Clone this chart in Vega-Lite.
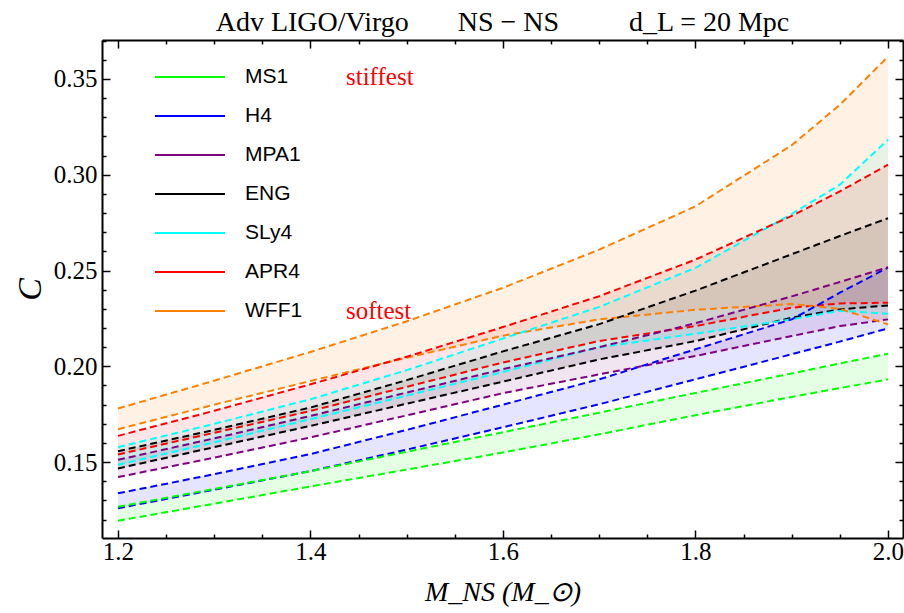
{
  "$schema": "https://vega.github.io/schema/vega-lite/v6.json",
  "width": 801,
  "height": 498,
  "autosize": {"type": "none"},
  "padding": {"left": 102, "top": 40, "right": 1, "bottom": 75},
  "background": "white",
  "title": {
    "text": "Adv LIGO/Virgo\u00a0\u00a0\u00a0\u00a0\u00a0\u00a0\u00a0NS − NS\u00a0\u00a0\u00a0\u00a0\u00a0\u00a0\u00a0\u00a0\u00a0\u00a0d_L = 20 Mpc",
    "font": "Liberation Serif",
    "fontSize": 28,
    "fontWeight": "normal",
    "color": "black",
    "anchor": "middle",
    "offset": -8
  },
  "config": {
    "view": {"stroke": null},
    "axis": {
      "grid": false,
      "domain": true,
      "domainColor": "black",
      "domainWidth": 2,
      "tickColor": "black",
      "tickWidth": 1.5,
      "labelColor": "black",
      "labelFont": "Liberation Serif",
      "labelFontSize": 25,
      "labelOverlap": false,
      "titleColor": "black",
      "titleFontWeight": "normal"
    }
  },
  "data": {
    "values": [
      {"eos":"MS1","note":"stiffest","M":1.2,"lo":0.1194,"hi":0.1267},
      {"eos":"MS1","note":"stiffest","M":1.3,"lo":0.1283,"hi":0.1360},
      {"eos":"MS1","note":"stiffest","M":1.4,"lo":0.1373,"hi":0.1453},
      {"eos":"MS1","note":"stiffest","M":1.5,"lo":0.1461,"hi":0.1554},
      {"eos":"MS1","note":"stiffest","M":1.6,"lo":0.1550,"hi":0.1656},
      {"eos":"MS1","note":"stiffest","M":1.7,"lo":0.1645,"hi":0.1758},
      {"eos":"MS1","note":"stiffest","M":1.8,"lo":0.1745,"hi":0.1861},
      {"eos":"MS1","note":"stiffest","M":1.9,"lo":0.1840,"hi":0.1963},
      {"eos":"MS1","note":"stiffest","M":1.95,"lo":0.1886,"hi":0.2015},
      {"eos":"MS1","note":"stiffest","M":2.0,"lo":0.1932,"hi":0.2066},
      {"eos":"H4","note":"none","M":1.2,"lo":0.1259,"hi":0.1337},
      {"eos":"H4","note":"none","M":1.3,"lo":0.1356,"hi":0.1437},
      {"eos":"H4","note":"none","M":1.4,"lo":0.1453,"hi":0.1542},
      {"eos":"H4","note":"none","M":1.5,"lo":0.1565,"hi":0.1668},
      {"eos":"H4","note":"none","M":1.6,"lo":0.1682,"hi":0.1800},
      {"eos":"H4","note":"none","M":1.7,"lo":0.1802,"hi":0.1932},
      {"eos":"H4","note":"none","M":1.8,"lo":0.1932,"hi":0.2089},
      {"eos":"H4","note":"none","M":1.9,"lo":0.2063,"hi":0.2245},
      {"eos":"H4","note":"none","M":1.95,"lo":0.2129,"hi":0.2384},
      {"eos":"H4","note":"none","M":2.0,"lo":0.2198,"hi":0.2515},
      {"eos":"MPA1","note":"none","M":1.2,"lo":0.1422,"hi":0.1512},
      {"eos":"MPA1","note":"none","M":1.3,"lo":0.1523,"hi":0.1624},
      {"eos":"MPA1","note":"none","M":1.4,"lo":0.1629,"hi":0.1741},
      {"eos":"MPA1","note":"none","M":1.5,"lo":0.1744,"hi":0.1863},
      {"eos":"MPA1","note":"none","M":1.6,"lo":0.1860,"hi":0.1985},
      {"eos":"MPA1","note":"none","M":1.7,"lo":0.1958,"hi":0.2100},
      {"eos":"MPA1","note":"none","M":1.8,"lo":0.2054,"hi":0.2225},
      {"eos":"MPA1","note":"none","M":1.9,"lo":0.2158,"hi":0.2365},
      {"eos":"MPA1","note":"none","M":1.95,"lo":0.2210,"hi":0.2440},
      {"eos":"MPA1","note":"none","M":2.0,"lo":0.2245,"hi":0.2517},
      {"eos":"ENG","note":"none","M":1.2,"lo":0.1467,"hi":0.1557},
      {"eos":"ENG","note":"none","M":1.3,"lo":0.1578,"hi":0.1668},
      {"eos":"ENG","note":"none","M":1.4,"lo":0.1689,"hi":0.1785},
      {"eos":"ENG","note":"none","M":1.5,"lo":0.1805,"hi":0.1928},
      {"eos":"ENG","note":"none","M":1.6,"lo":0.1920,"hi":0.2078},
      {"eos":"ENG","note":"none","M":1.7,"lo":0.2036,"hi":0.2220},
      {"eos":"ENG","note":"none","M":1.8,"lo":0.2132,"hi":0.2395},
      {"eos":"ENG","note":"none","M":1.9,"lo":0.2254,"hi":0.2585},
      {"eos":"ENG","note":"none","M":1.95,"lo":0.2297,"hi":0.2680},
      {"eos":"ENG","note":"none","M":2.0,"lo":0.2318,"hi":0.2773},
      {"eos":"SLy4","note":"none","M":1.2,"lo":0.1486,"hi":0.1578},
      {"eos":"SLy4","note":"none","M":1.3,"lo":0.1603,"hi":0.1700},
      {"eos":"SLy4","note":"none","M":1.4,"lo":0.1724,"hi":0.1828},
      {"eos":"SLy4","note":"none","M":1.5,"lo":0.1847,"hi":0.1980},
      {"eos":"SLy4","note":"none","M":1.6,"lo":0.1970,"hi":0.2145},
      {"eos":"SLy4","note":"none","M":1.7,"lo":0.2100,"hi":0.2310},
      {"eos":"SLy4","note":"none","M":1.8,"lo":0.2170,"hi":0.2514},
      {"eos":"SLy4","note":"none","M":1.9,"lo":0.2245,"hi":0.2795},
      {"eos":"SLy4","note":"none","M":1.95,"lo":0.2290,"hi":0.2948},
      {"eos":"SLy4","note":"none","M":2.0,"lo":0.2274,"hi":0.3182},
      {"eos":"APR4","note":"none","M":1.2,"lo":0.1540,"hi":0.1637},
      {"eos":"APR4","note":"none","M":1.3,"lo":0.1653,"hi":0.1768},
      {"eos":"APR4","note":"none","M":1.4,"lo":0.1767,"hi":0.1906},
      {"eos":"APR4","note":"none","M":1.5,"lo":0.1893,"hi":0.2050},
      {"eos":"APR4","note":"none","M":1.6,"lo":0.2020,"hi":0.2205},
      {"eos":"APR4","note":"none","M":1.7,"lo":0.2132,"hi":0.2366},
      {"eos":"APR4","note":"none","M":1.8,"lo":0.2210,"hi":0.2557},
      {"eos":"APR4","note":"none","M":1.9,"lo":0.2306,"hi":0.2785},
      {"eos":"APR4","note":"none","M":1.95,"lo":0.2328,"hi":0.2913},
      {"eos":"APR4","note":"none","M":2.0,"lo":0.2332,"hi":0.3052},
      {"eos":"WFF1","note":"softest","M":1.2,"lo":0.1672,"hi":0.1780},
      {"eos":"WFF1","note":"softest","M":1.3,"lo":0.1800,"hi":0.1925},
      {"eos":"WFF1","note":"softest","M":1.4,"lo":0.1923,"hi":0.2075},
      {"eos":"WFF1","note":"softest","M":1.5,"lo":0.2045,"hi":0.2235},
      {"eos":"WFF1","note":"softest","M":1.6,"lo":0.2160,"hi":0.2410},
      {"eos":"WFF1","note":"softest","M":1.7,"lo":0.2245,"hi":0.2609},
      {"eos":"WFF1","note":"softest","M":1.8,"lo":0.2295,"hi":0.2835},
      {"eos":"WFF1","note":"softest","M":1.9,"lo":0.2325,"hi":0.3154},
      {"eos":"WFF1","note":"softest","M":1.95,"lo":0.2300,"hi":0.3365},
      {"eos":"WFF1","note":"softest","M":2.0,"lo":0.2219,"hi":0.3616}
    ]
  },
  "layer": [
    {
      "mark": {"type": "area", "fillOpacity": 0.1},
      "encoding": {
        "x": {
          "field": "M", "type": "quantitative",
          "scale": {"domain": [1.1834, 2.0156], "nice": false, "zero": false},
          "axis": {
            "orient": "bottom",
            "values": [1.2,1.25,1.3,1.35,1.4,1.45,1.5,1.55,1.6,1.65,1.7,1.75,1.8,1.85,1.9,1.95,2.0],
            "format": ".1f",
            "labelExpr": "abs(datum.value*5-round(datum.value*5))<0.001 ? datum.label : ''",
            "tickSize": -8,
            "tickDash": {"condition": {"test": "abs(datum.value*5-round(datum.value*5))<0.001", "value": [8, 0]}, "value": [4, 30]},
            "labelPadding": 9,
            "title": "M_NS (M_⊙)",
            "titleFont": "Liberation Serif",
            "titleFontStyle": "italic",
            "titleFontSize": 28,
            "titlePadding": 14
          }
        },
        "y": {
          "field": "lo", "type": "quantitative",
          "scale": {"domain": [0.1104, 0.3703], "nice": false, "zero": false},
          "axis": {
            "orient": "left",
            "values": [0.12,0.13,0.14,0.15,0.16,0.17,0.18,0.19,0.2,0.21,0.22,0.23,0.24,0.25,0.26,0.27,0.28,0.29,0.3,0.31,0.32,0.33,0.34,0.35,0.36,0.37],
            "format": ".2f",
            "labelExpr": "abs(datum.value*20-round(datum.value*20))<0.001 ? datum.label : ''",
            "tickSize": -8,
            "tickDash": {"condition": {"test": "abs(datum.value*20-round(datum.value*20))<0.001", "value": [8, 0]}, "value": [4, 30]},
            "labelPadding": 13,
            "title": "C",
            "titleFont": "Liberation Serif",
            "titleFontStyle": "italic",
            "titleFontSize": 34,
            "titlePadding": 6
          }
        },
        "y2": {"field": "hi"},
        "fill": {
          "field": "eos", "type": "nominal",
          "scale": {"domain": ["WFF1","APR4","SLy4","ENG","MPA1","H4","MS1"], "range": ["#ff8000","#ff0000","#00ffff","#000000","#800080","#0000ff","#00ff00"]},
          "legend": null
        }
      }
    },
    {
      "mark": {"type": "line", "strokeWidth": 2},
      "encoding": {
        "x": {"field": "M", "type": "quantitative", "axis": null},
        "y": {"field": "lo", "type": "quantitative", "axis": null},
        "stroke": {
          "field": "eos", "type": "nominal",
          "scale": {"domain": ["MS1","H4","MPA1","ENG","SLy4","APR4","WFF1"], "range": ["#00ff00","#0000ff","#800080","#000000","#00ffff","#ff0000","#ff8000"]},
          "legend": {
            "orient": "none", "legendX": 52, "legendY": 17.5, "title": null,
            "symbolType": "stroke", "symbolSize": 4900, "symbolStrokeWidth": 2, "symbolDash": [1, 0],
            "labelFont": "Liberation Sans", "labelFontSize": 21, "labelColor": "black", "labelOffset": 19,
            "clipHeight": 39, "rowPadding": 0, "padding": 0
          }
        },
        "strokeDash": {
          "field": "note", "type": "nominal",
          "scale": {"domain": ["stiffest","softest","none"], "range": [[7,4],[7,4],[7,4]]},
          "legend": {
            "orient": "none", "legendX": 219, "legendY": 17.5, "title": null,
            "values": ["stiffest","softest"],
            "symbolSize": 0, "symbolStrokeWidth": 0, "symbolOpacity": 0,
            "labelFont": "Liberation Serif", "labelFontSize": 25, "labelColor": "#ff0000", "labelOffset": 0,
            "clipHeight": 39, "rowPadding": 195, "padding": 0
          }
        }
      }
    },
    {
      "mark": {"type": "line", "strokeWidth": 2},
      "encoding": {
        "x": {
          "field": "M", "type": "quantitative",
          "axis": {
            "orient": "top",
            "values": [1.2,1.25,1.3,1.35,1.4,1.45,1.5,1.55,1.6,1.65,1.7,1.75,1.8,1.85,1.9,1.95,2.0],
            "labels": false,
            "tickSize": -8,
            "tickDash": {"condition": {"test": "abs(datum.value*5-round(datum.value*5))<0.001", "value": [8, 0]}, "value": [4, 30]},
            "title": null
          }
        },
        "y": {
          "field": "hi", "type": "quantitative",
          "axis": {
            "orient": "right",
            "values": [0.12,0.13,0.14,0.15,0.16,0.17,0.18,0.19,0.2,0.21,0.22,0.23,0.24,0.25,0.26,0.27,0.28,0.29,0.3,0.31,0.32,0.33,0.34,0.35,0.36,0.37],
            "labels": false,
            "tickSize": -8,
            "tickDash": {"condition": {"test": "abs(datum.value*20-round(datum.value*20))<0.001", "value": [8, 0]}, "value": [4, 30]},
            "title": null
          }
        },
        "stroke": {"field": "eos", "type": "nominal"},
        "strokeDash": {"field": "note", "type": "nominal"}
      }
    }
  ],
  "resolve": {"axis": {"x": "independent", "y": "independent"}}
}
